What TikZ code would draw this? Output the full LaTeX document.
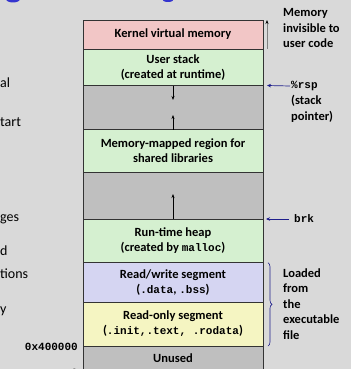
\documentclass[tikz,border=0pt]{standalone}
\usepackage{fontspec}
\setmainfont{Carlito}
\setmonofont{Liberation Mono}
\usetikzlibrary{arrows.meta, decorations.pathreplacing}

\definecolor{slide}{HTML}{D9D9D9}
\definecolor{kpink}{HTML}{F2C6C6}
\definecolor{sgreen}{HTML}{D5F0D0}
\definecolor{hole}{HTML}{BFBFBF}
\definecolor{rwblue}{HTML}{D5D5F2}
\definecolor{royel}{HTML}{F5F5C2}
\definecolor{navy}{HTML}{1F1F8C}
\definecolor{tblue}{HTML}{3535CF}
\newcommand{\mono}[1]{{\fontsize{11}{15}\selectfont\ttfamily #1}}

\begin{document}
\begin{tikzpicture}[x=1pt,y=-1pt]
    \tikzstyle{seg}   = [rectangle, minimum width=180pt, inner sep=0pt, outer sep=0pt, align=center, draw=black!80, line width=0.8pt, font=\fontsize{12.5}{15}\selectfont\bfseries]
    \tikzstyle{note}  = [align=left, anchor=west, inner sep=1pt, font=\fontsize{12.5}{15.5}\selectfont\bfseries]
    \tikzstyle{side}  = [anchor=west, inner sep=0pt, font=\fontsize{14}{16}\selectfont]
    \tikzstyle{arrow} = [-{Stealth[length=4pt,width=3pt]}, line width=0.6pt]
    \tikzstyle{ptr}   = [-{Stealth[length=4pt,width=3.5pt]}, navy, line width=0.7pt]
    \fill[slide] (0,0) rectangle (351,369);
    \clip (0,0) rectangle (351,369);
    % cut-off title and text
    \fill[tblue] (13,-1) ellipse (7 and 3.5);
    \fill[tblue] (168,-1) ellipse (6 and 3);
    \node (l1) [side] at (0,82.5) {al};
    \node (l2) [side] at (0,122.5) {tart};
    \node (l3) [side] at (0,219) {ges};
    \node (l4) [side] at (0,251) {d};
    \node (l5) [side] at (0,274) {tions};
    \node (l6) [side] at (0,311.5) {y};
    % address space
    \node (kern)   [seg, fill=kpink,  minimum height=29pt]   at (173,34.5)   {Kernel virtual memory};
    \node (stk)    [seg, fill=sgreen, minimum height=36.5pt] at (173,67.25)  {User stack\\(created at runtime)};
    \node (gap1)   [seg, fill=hole,   minimum height=44pt]   at (173,107.5)  {};
    \node (mmap)   [seg, fill=sgreen, minimum height=42.5pt] at (173,150.75) {Memory-mapped region for\\shared libraries};
    \node (gap2)   [seg, fill=hole,   minimum height=47pt]   at (173,195.5)  {};
    \node (heap)   [seg, fill=sgreen, minimum height=43.7pt] at (173,240.85) {Run-time heap\\(created by \mono{malloc})};
    \node (rw)     [seg, fill=rwblue, minimum height=39.3pt] at (173,282.35) {Read/write segment\\(\mono{.data}, \mono{.bss})};
    \node (ro)     [seg, fill=royel,  minimum height=44pt]   at (173,324)    {Read-only segment\\(\mono{.init,.text, .rodata})};
    \node (unused) [seg, fill=hole,   minimum height=24pt]   at (173,358)    {Unused};
    \coordinate (s1) at (173,100);
    \coordinate (s2) at (173,115);
    \coordinate (h1) at (173,194);
    \draw[arrow] (gap1.north) -- (s1);
    \draw[arrow] (gap1.south) -- (s2);
    \draw[arrow] (gap2.south) -- (h1);
    % addresses
    \node (a1) [anchor=east, inner sep=0pt, font=\fontsize{11}{13}\selectfont\ttfamily\bfseries] at (78,347) {0x400000};
    \node (a0) [anchor=east, inner sep=0pt, font=\fontsize{11}{13}\selectfont\ttfamily\bfseries] at (78,373) {0};
    % right side notes
    \node (mem) [note] at (282,28) {Memory\\invisible to\\user code};
    \draw[-{Stealth[length=4pt,width=3pt,black]}, draw=gray, line width=0.8pt] ([xshift=4pt]kern.south east) -- ([xshift=4pt]kern.north east);
    \node (rsp) [note] at (290,86) {\mono{\%rsp}};
    \node (spt) [note] at (290,109) {(stack\\pointer)};
    \draw[ptr] (rsp.west) -- ([xshift=4pt]stk.south east);
    \node (brk) [note] at (293,219) {\mono{brk}};
    \draw[ptr] ([xshift=-4pt]brk.west) -- ([xshift=3pt]heap.north east);
    \draw[navy, line width=0.6pt, decorate, decoration={brace, amplitude=4pt}] ([xshift=5pt]rw.north east) -- ([xshift=5pt]ro.south east);
    \node (ld) [note] at (282,304) {Loaded\\from\\the\\executable\\file};
\end{tikzpicture}
\end{document}
